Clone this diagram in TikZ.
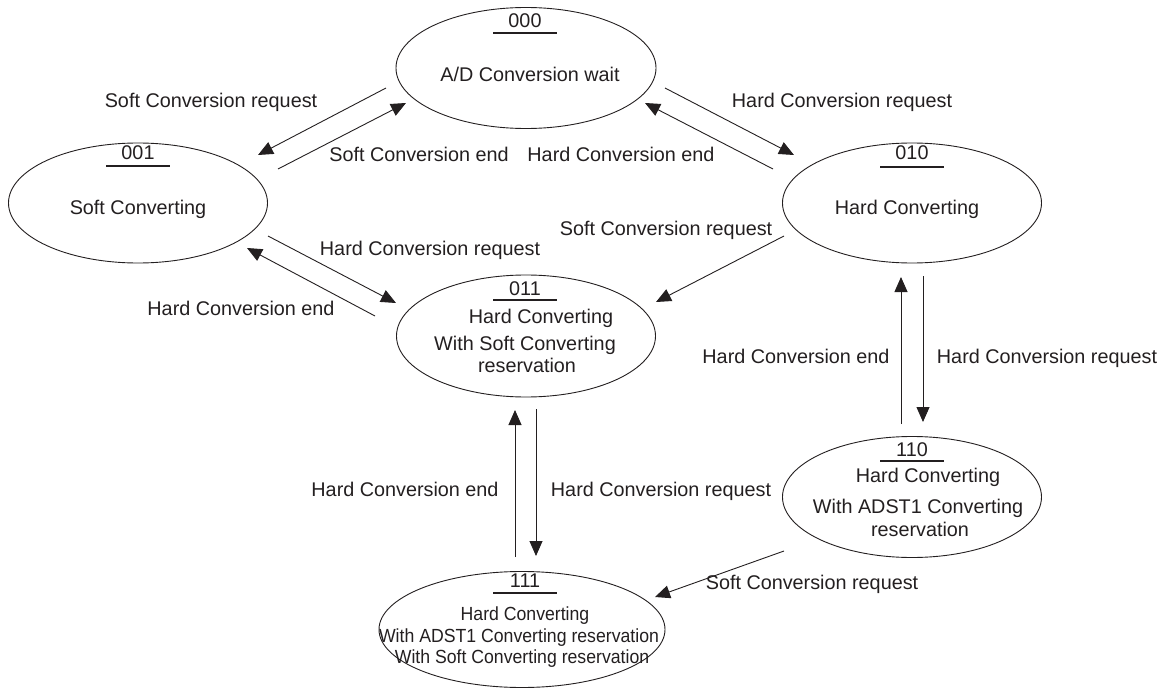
\documentclass[tikz,border=0pt]{standalone}
\usepackage{fontspec}
\setmainfont{Liberation Sans}
\usetikzlibrary{shapes.geometric,arrows.meta,calc}
\definecolor{ink}{HTML}{231F20}
\begin{document}
\begin{tikzpicture}[x=1bp,y=-1bp,
  state/.style={ellipse, draw=ink, line width=0.9bp, inner sep=0pt, outer sep=0pt},
  txt/.style={text=ink, font=\fontsize{19.8bp}{22bp}\selectfont, inner sep=0pt, text height=14bp, text depth=4bp},
  smalltxt/.style={txt, font=\fontsize{19bp}{21bp}\selectfont, text height=13.5bp, text depth=4bp},
  ul/.style={draw=ink, line width=2bp},
  arr/.style={draw=ink, line width=0.9bp, -{Triangle[length=15bp,width=13bp]}}]
\useasboundingbox (0,0) rectangle (1164,688);

% states
\node[state, minimum width=260bp, minimum height=121bp] (s000) at (526,68) {};
\node[state, minimum width=259bp, minimum height=120bp] (s001) at (138,203) {};
\node[state, minimum width=259bp, minimum height=120bp] (s010) at (912,203) {};
\node[state, minimum width=259bp, minimum height=122bp] (s011) at (526,336) {};
\node[state, minimum width=259bp, minimum height=121bp] (s110) at (912,497) {};
\node[state, minimum width=286bp, minimum height=116bp] (s111) at (522,629.5) {};

% state texts
\node[txt] (n000) at (525,23) {000};
\draw[ul] ($(n000)+(-32,10)$) -- ++(64,0);
\node[txt] (t000) at (530,77) {A/D Conversion wait};

\node[txt] (n001) at (138,155) {001};
\draw[ul] ($(n001)+(-32,11)$) -- ++(64,0);
\node[txt] (t001) at (138,210) {Soft Converting};

\node[txt] (n010) at (912,155) {010};
\draw[ul] ($(n010)+(-32,12)$) -- ++(64,0);
\node[txt] (t010) at (907,210) {Hard Converting};

\node[txt] (n011) at (525,290) {011};
\draw[ul] ($(n011)+(-32,10)$) -- ++(64,0);
\node[txt] (t011a) at (541,318) {Hard Converting};
\node[txt] (t011b) at (525,345) {With Soft Converting};
\node[txt] (t011c) at (527,367) {reservation};

\node[txt] (n110) at (912,451) {110};
\draw[ul] ($(n110)+(-32,10)$) -- ++(64,0);
\node[txt] (t110a) at (928,477) {Hard Converting};
\node[txt] (t110b) at (918,508) {With ADST1 Converting};
\node[txt] (t110c) at (920,531) {reservation};

\node[txt] (n111) at (525,582) {111};
\draw[ul] ($(n111)+(-32,11)$) -- ++(64,0);
\node[smalltxt] (t111a) at (525,616) {\scalebox{0.93}[1]{Hard Converting}};
\node[smalltxt] (t111b) at (519,638) {\scalebox{0.93}[1]{With ADST1 Converting reservation}};
\node[smalltxt] (t111c) at (522,659) {\scalebox{0.93}[1]{With Soft Converting reservation}};

% connector end points
\coordinate (a1s) at (386,88);  \coordinate (a1e) at (258,155);
\coordinate (a2s) at (278,169); \coordinate (a2e) at (406,103);
\coordinate (a3s) at (665,88);  \coordinate (a3e) at (794,155);
\coordinate (a4s) at (773,169); \coordinate (a4e) at (645,103);
\coordinate (a5s) at (268,236); \coordinate (a5e) at (396,303);
\coordinate (a6s) at (375,316); \coordinate (a6e) at (247,248);
\coordinate (a7s) at (784,236); \coordinate (a7e) at (656,302);
\coordinate (a8s) at (901,424); \coordinate (a8e) at (901,277);
\coordinate (a9s) at (923,276); \coordinate (a9e) at (923,422);
\coordinate (a10s) at (515,557); \coordinate (a10e) at (515,410);
\coordinate (a11s) at (536,409); \coordinate (a11e) at (536,556);
\coordinate (a12s) at (784,551); \coordinate (a12e) at (655,597);

\draw[arr] (a1s) -- (a1e);
\draw[arr] (a2s) -- (a2e);
\draw[arr] (a3s) -- (a3e);
\draw[arr] (a4s) -- (a4e);
\draw[arr] (a5s) -- (a5e);
\draw[arr] (a6s) -- (a6e);
\draw[arr] (a7s) -- (a7e);
\draw[arr] (a8s) -- (a8e);
\draw[arr] (a9s) -- (a9e);
\draw[arr] (a10s) -- (a10e);
\draw[arr] (a11s) -- (a11e);
\draw[arr] (a12s) -- (a12e);

% connector labels
\node[txt] (l1) at (211,103) {Soft Conversion request};
\node[txt] (l2) at (419,157) {Soft Conversion end};
\node[txt] (l3) at (842,103) {Hard Conversion request};
\node[txt] (l4) at (621,157) {Hard Conversion end};
\node[txt] (l5) at (430,250) {Hard Conversion request};
\node[txt] (l6) at (241,310) {Hard Conversion end};
\node[txt] (l7) at (666,230) {Soft Conversion request};
\node[txt] (l8) at (796,358) {Hard Conversion end};
\node[txt] (l9) at (1047,358) {Hard Conversion request};
\node[txt] (l10) at (405,491) {Hard Conversion end};
\node[txt] (l11) at (661,491) {Hard Conversion request};
\node[txt] (l12) at (812,584) {Soft Conversion request};
\end{tikzpicture}
\end{document}
